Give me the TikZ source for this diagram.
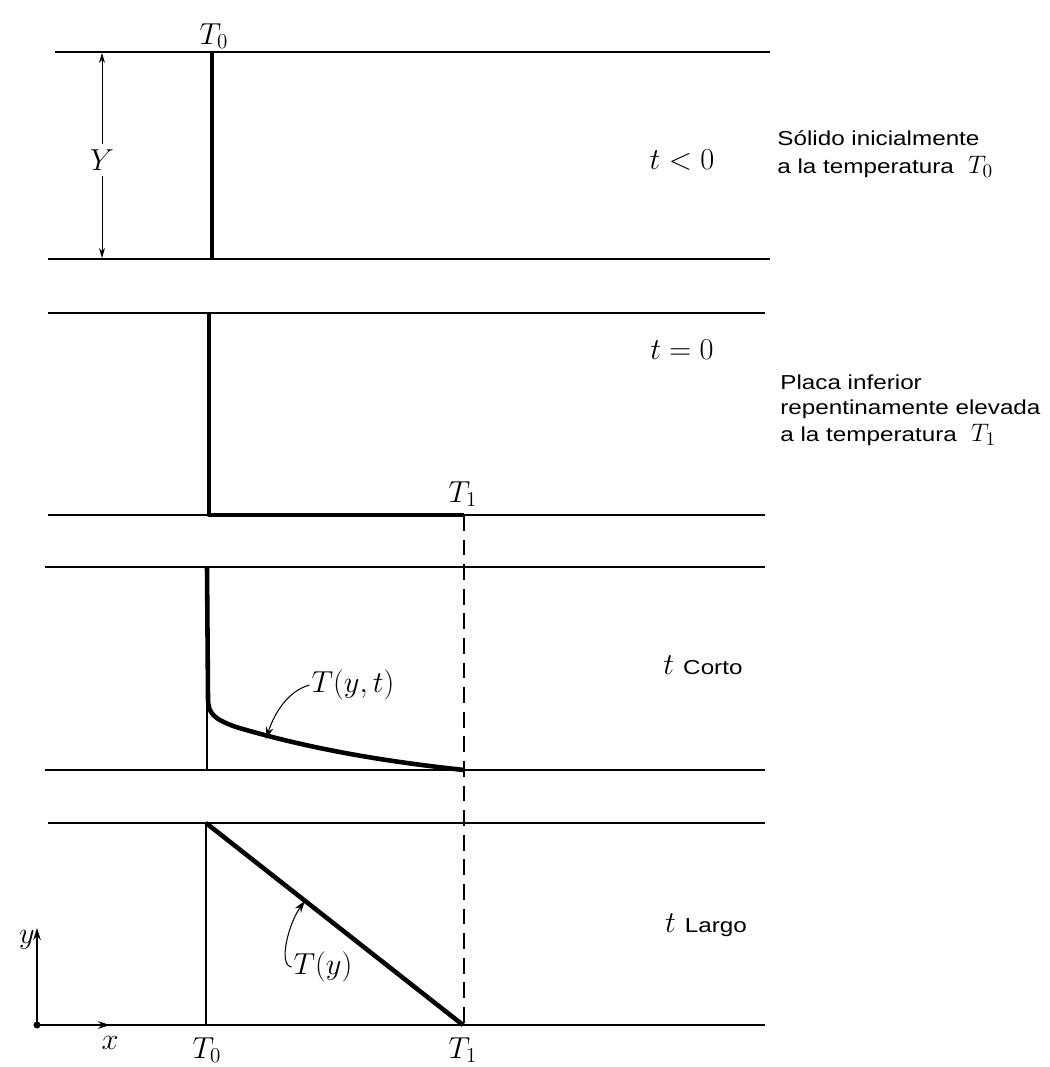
\documentclass[tikz,border=0pt]{standalone}
\usepackage{fontspec}
\setsansfont{Liberation Sans}[FakeStretch=1.2]
\usetikzlibrary{arrows.meta,positioning,calc}
\newcommand{\notemath}[1]{{\fontsize{15}{15}\selectfont$#1$}}
\newcommand{\caseword}[1]{{\sffamily\fontsize{11.5}{13}\selectfont #1}}
\tikzset{
  plate/.style={line width=1pt},
  wall/.style={line width=0.8pt},
  profile/.style={line width=2.6pt, line join=round},
  guide/.style={line width=0.7pt, dash pattern=on 9pt off 5pt},
  lab/.style={font=\fontsize{17}{20}\selectfont, inner sep=1pt},
  note/.style={font=\sffamily\fontsize{11.5}{14}\selectfont, align=left, anchor=north west, inner sep=0pt},
  pointer/.style={-{Stealth[length=2.4mm,width=1.5mm]}, line width=0.6pt},
  dimarrow/.style={{Stealth[length=2mm,width=1.2mm]}-{Stealth[length=2mm,width=1.2mm]}, line width=0.5pt},
  axisarrow/.style={-{Stealth[length=2.4mm,width=1.5mm]}, line width=0.8pt},
  origin/.style={circle, fill=black, minimum size=4pt, inner sep=0pt}
}

\begin{document}
\begin{tikzpicture}[x=0.02cm, y=-0.02cm]
\useasboundingbox (0,0) rectangle (1050,1067);

% plates
\coordinate (a1) at (55,52);   \coordinate (a2) at (770,52);
\coordinate (a3) at (48,259);  \coordinate (a4) at (770,259);
\coordinate (b1) at (48,313);  \coordinate (b2) at (765,313);
\coordinate (b3) at (48,515);  \coordinate (b4) at (765,515);
\coordinate (c1) at (45,567);  \coordinate (c2) at (765,567);
\coordinate (c3) at (45,770);  \coordinate (c4) at (765,770);
\coordinate (d1) at (48,823);  \coordinate (d2) at (765,823);
\node[origin] (o) at (37,1025) {};
\coordinate (d4) at (765,1025);
\draw[plate] (a1) -- (a2);
\draw[plate] (a3) -- (a4);
\draw[plate] (b1) -- (b2);
\draw[plate] (b3) -- (b4);
\draw[plate] (c1) -- (c2);
\draw[plate] (c3) -- (c4);
\draw[plate] (d1) -- (d2);
\draw[plate] (o) -- (d4);

% t < 0
\coordinate (w1t) at (212,52); \coordinate (w1b) at (212,259);
\draw[profile] (w1t) -- (w1b);
\node[lab] (tzero) at (214,36) {$T_0$};
\coordinate (ytop) at (102,53); \coordinate (ybot) at (102,258);
\draw[dimarrow] (ytop) -- (ybot);
\node[lab, fill=white, inner sep=3pt] (ylab) at (102,160) {$Y$};
\node[lab] (tneg) at (682,160) {$t<0$};
\node[note] (n1) at (777,130) {Sólido inicialmente\\[2pt]a la temperatura\hspace{0.7em}\notemath{T_0}};

% t = 0
\coordinate (w2t) at (209,313); \coordinate (w2b) at (209,515);
\coordinate (w2r) at (464,515);
\draw[profile] (w2t) -- (w2b) -- (w2r);
\node[lab] (tone) at (463,494) {$T_1$};
\node[lab] (tnull) at (682,350) {$t=0$};
\node[note] (n2) at (780,375) {Placa inferior\\repentinamente elevada\\[1.5pt]a la temperatura\hspace{0.7em}\notemath{T_1}};

% t corto
\coordinate (w3t) at (207,567); \coordinate (w3b) at (207,770);
\coordinate (w3r) at (464,770);
\draw[wall] (w3t) -- (w3b);
\draw[profile] (w3t) -- (208,698) .. controls (208,714) and (214,719) .. (236,727)
  .. controls (320,752) and (400,763) .. (w3r);
\node[lab] (tyt) at (353,685) {$T(y,t)$};
\coordinate (tytend) at (266,739);
\draw[pointer] (tyt.west) .. controls +(-22,6) and +(8,-25) .. (tytend);
\node[lab] (tcorto) at (703,665) {$t$\ \caseword{Corto}};

% t largo
\coordinate (w4t) at (206,823); \coordinate (w4b) at (206,1025);
\coordinate (w4r) at (463,1025);
\draw[wall] (w4t) -- (w4b);
\draw[profile] (w4t) -- (w4r);
\node[lab] (ty) at (323,967) {$T(y)$};
\coordinate (tyend) at ($(w4t)!0.385!(w4r)$);
\draw[pointer] (ty.west) .. controls +(-14,-2) and +(-16,22) .. (tyend);
\node[lab] (tlargo) at (706,925) {$t$\ \caseword{Largo}};

% dashed guide
\coordinate (g1) at (464,515); \coordinate (g2) at (464,1025);
\draw[guide] (g1) -- (g2);

% axes
\coordinate (yax) at (37,928); \coordinate (xax) at (110,1025);
\draw[axisarrow] (o.center) -- (yax);
\draw[axisarrow] (o.center) -- (xax);
\node[lab] (ylbl) at (27,940) {$y$};
\node[lab] (xlbl) at (110,1043) {$x$};
\node[lab] (tzerob) at (207,1050) {$T_0$};
\node[lab] (toneb) at (463,1050) {$T_1$};
\end{tikzpicture}
\end{document}
